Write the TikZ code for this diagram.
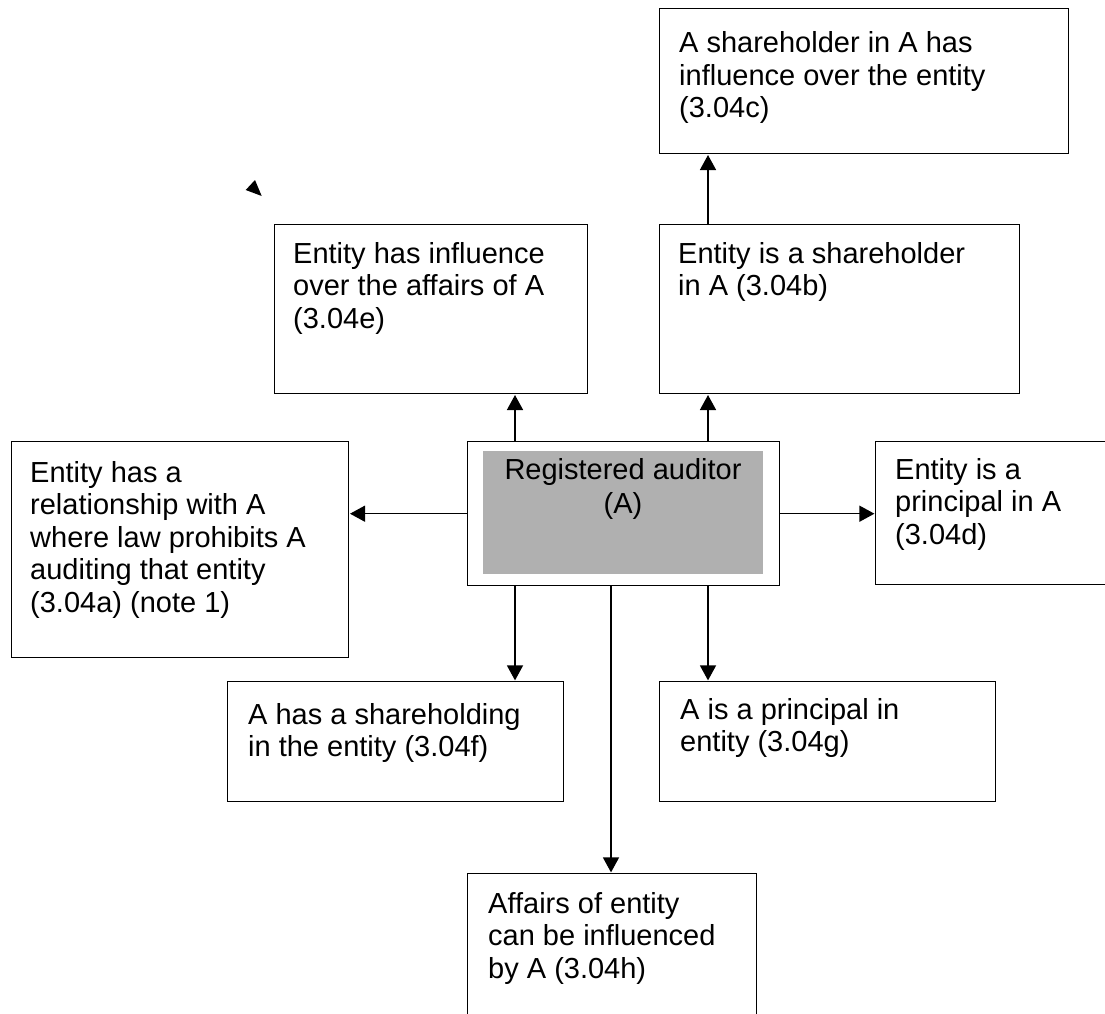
\documentclass[tikz,border=0pt]{standalone}
\usepackage{fontspec}
\setmainfont{Liberation Sans}
\usetikzlibrary{arrows.meta}
\definecolor{boxgray}{RGB}{176,176,176}
\begin{document}
\begin{tikzpicture}[x=1pt,y=-1pt,
  box/.style={draw, line width=1.4pt, inner sep=0pt, anchor=north west, rectangle},
  txt/.style={anchor=base west, inner sep=0pt, font=\fontsize{29}{32.5}\selectfont},
  arr/.style={line width=1.4pt, -{Triangle[width=16pt,length=15pt]}, shorten >=0.6pt}]
\useasboundingbox (0,0) rectangle (1105,1014);

% boxes
\node[box, minimum width=409pt, minimum height=145pt] (c) at (659,8) {};
\node[box, minimum width=313pt, minimum height=169pt] (e) at (274,224) {};
\node[box, minimum width=360pt, minimum height=169pt] (b) at (659,224) {};
\node[box, minimum width=337pt, minimum height=216pt] (a) at (11,441) {};
\node[box, minimum width=312pt, minimum height=144pt] (A) at (467,441) {};
\node[fill=boxgray, inner sep=0pt, anchor=north west, minimum width=280pt, minimum height=123pt] (Ain) at (483,451) {};
\node[box, minimum width=250pt, minimum height=143pt] (d) at (875,441) {};
\node[box, minimum width=336pt, minimum height=120pt] (f) at (227,681) {};
\node[box, minimum width=336pt, minimum height=120pt] (g) at (659,681) {};
\node[box, minimum width=289pt, minimum height=160pt] (h) at (467,873) {};

% texts
\node[txt] (ct) at (679,53) {\parbox[t]{420pt}{A shareholder in A has\\influence over the entity\\(3.04c)}};
\node[txt] (et) at (293,263) {\parbox[t]{420pt}{Entity has influence\\over the affairs of A\\(3.04e)}};
\node[txt] (bt) at (678,263) {\parbox[t]{420pt}{Entity is a shareholder\\in A (3.04b)}};
\node[txt] (at) at (30,482) {\parbox[t]{420pt}{Entity has a\\relationship with A\\where law prohibits A\\auditing that entity\\(3.04a) (note 1)}};
\node[txt] (dt) at (895,479) {\parbox[t]{420pt}{Entity is a\\principal in A\\(3.04d)}};
\node[txt] (ft) at (248,724) {\parbox[t]{420pt}{A has a shareholding\\in the entity (3.04f)}};
\node[txt] (gt) at (680,719) {\parbox[t]{420pt}{A is a principal in\\entity (3.04g)}};
\node[txt] (ht) at (488,913) {\parbox[t]{420pt}{Affairs of entity\\can be influenced\\by A (3.04h)}};
\node[anchor=base, inner sep=0pt, font=\fontsize{29}{34}\selectfont] (At) at (623,479) {\parbox[t]{270pt}{\centering Registered auditor\\(A)}};

% connectors
\coordinate (xl) at (515,0);
\coordinate (xm) at (611,0);
\coordinate (xr) at (708,0);
\draw[arr] (A.north -| xl) -- (e.south -| xl);
\draw[arr] (A.north -| xr) -- (b.south -| xr);
\draw[arr] (b.north -| xr) -- (c.south -| xr);
\draw[arr] (A.west) -- (a.east |- A.west);
\draw[arr] (A.east) -- (d.west |- A.east);
\draw[arr] (A.south -| xl) -- (f.north -| xl);
\draw[arr] (A.south -| xr) -- (g.north -| xr);
\draw[arr] (A.south -| xm) -- (h.north -| xm);

% stray arrowhead
\fill (255,180) -- (245.7,190) -- (261.7,196) -- cycle;
\end{tikzpicture}
\end{document}
